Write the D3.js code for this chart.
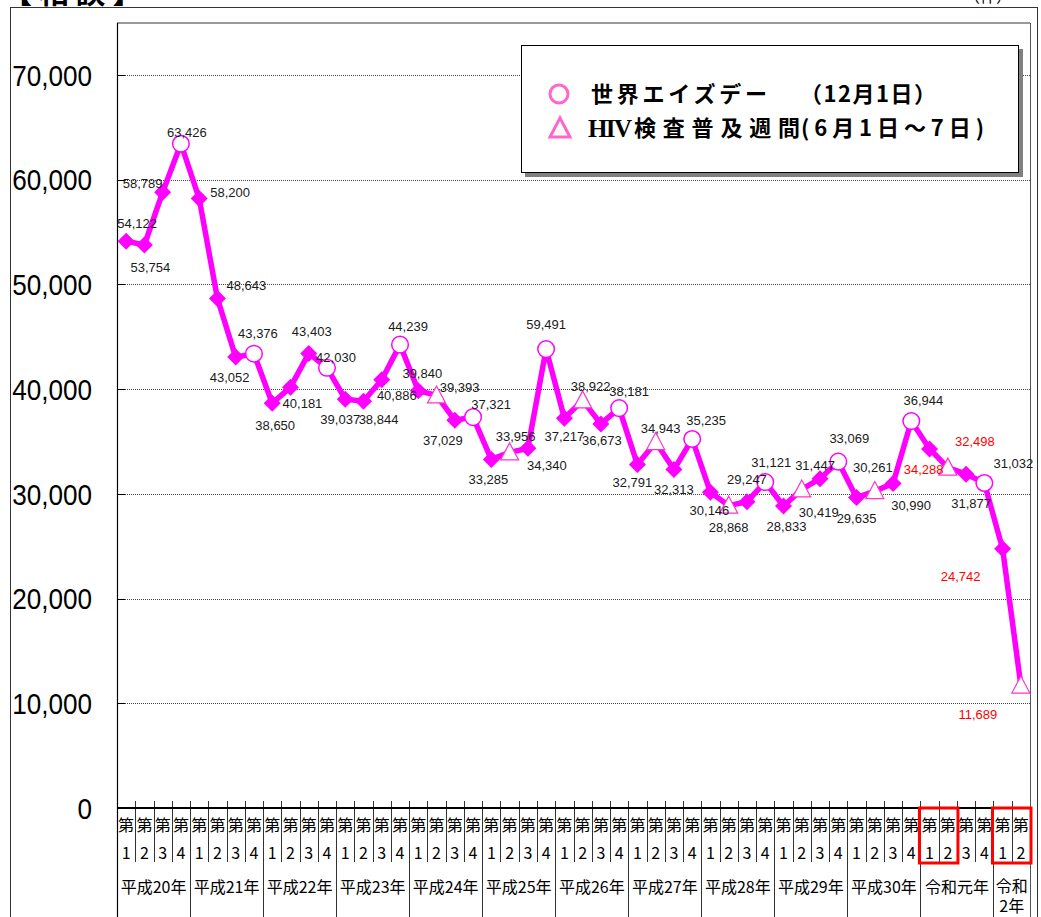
<!DOCTYPE html>
<html><head><meta charset="utf-8">
<script src="https://cdn.jsdelivr.net/npm/d3@7"></script>
<style>body{margin:0;background:#fff;} svg{display:block;}</style>
</head><body><svg id="c" width="1041" height="917"></svg>
<script>
// ---- data ----
const years = ["平成20年","平成21年","平成22年","平成23年","平成24年","平成25年","平成26年","平成27年","平成28年","平成29年","平成30年","令和元年","令和2年"];
const quartersPerYear = [4,4,4,4,4,4,4,4,4,4,4,4,2];
const values = [54122,53754,58789,63426, 58200,48643,43052,43376, 38650,40181,43403,42030,
  39037,38844,40886,44239, 39840,39393,37029,37321, 33285,33956,34340,43814,
  37217,38922,36673,38181, 32791,34943,32313,35235, 30146,28868,29247,31121,
  28833,30419,31447,33069, 29635,30261,30990,36944, 34288,32498,31877,31032, 24742,11689];
const valueLabels = ["54,122","53,754","58,789","63,426","58,200","48,643","43,052","43,376","38,650","40,181","43,403","42,030",
  "39,037","38,844","40,886","44,239","39,840","39,393","37,029","37,321","33,285","33,956","34,340","59,491",
  "37,217","38,922","36,673","38,181","32,791","34,943","32,313","35,235","30,146","28,868","29,247","31,121",
  "28,833","30,419","31,447","33,069","29,635","30,261","30,990","36,944","34,288","32,498","31,877","31,032","24,742","11,689"];
// D = diamond, C = circle (世界エイズデー), T = triangle (HIV検査普及週間)
const markerTypes = ["D","D","D","C","D","D","D","C","D","D","D","C","D","D","D","C",
  "D","T","D","C","D","T","D","C","D","T","D","C","D","T","D","C","D","T","D","C",
  "D","T","D","C","D","T","D","C","D","T","D","C","D","T"];
const highlighted = [44,45,48,49];
const yTicks = [0,10000,20000,30000,40000,50000,60000,70000];
const boxedGroups = [[44,45],[48,49]];
// label placement (layout only)
const labelOffsets = [[11,-18],[6,22],[-20,-9],[6,-11],[31,-6],[29,-13],[-6,20],[4,-20],[3,22],[12,16],[3,-22],[9,-10],
  [-5,20],[15,18],[15,16],[8,-18],[4,-17],[23,-8],[-12,20],[18,-13],[-3,20],[6,-16],[19,17],[0,-25],
  [0,18],[8,-14],[1,16],[10,-17],[-5,18],[5,-14],[0,20],[14,-19],[-1,18],[0,22],[0,-22],[6,-20],
  [3,20],[17,23],[-5,-13],[11,-23],[0,21],[-2,-24],[18,22],[12,-21],[-6,20],[27,-26],[5,29],[29,-20],[-42,27],[-43,29]];

// ---- build categories ----
const quarterLabels = [];
const yearStart = [];
quartersPerYear.forEach((n, yi) => { yearStart.push(quarterLabels.length); for (let q=1;q<=n;q++) quarterLabels.push(String(q)); });
const idx = d3.range(values.length);

const svg = d3.select("#c");
const L = 117, R = 1030, T = 23, B = 808;
const x = d3.scaleBand().domain(idx).range([L, R]).paddingInner(0).paddingOuter(0);
const y = d3.scaleLinear().domain([0, 75000]).range([B, T - 0.5]);
const cx = i => x(i) + x.bandwidth()/2;
const jp = "'Noto Sans CJK JP','Noto Sans',sans-serif";
const num = "'Liberation Sans',Arial,sans-serif";
const MAG = "#ff00ff";

// title fragments (cut off at top)
svg.append("text").attr("x", 2).attr("y", 3).attr("font-family", jp).attr("font-weight", 700)
  .attr("font-size", 30).attr("fill", "#000").text("【 相 談 】");
svg.append("text").attr("x", 988).attr("y", 2).attr("text-anchor", "middle").attr("font-family", jp)
  .attr("font-size", 16).attr("fill", "#000").text("（件）");

// outer frame
svg.append("rect").attr("x", 10.5).attr("y", 7.5).attr("width", 1027).attr("height", 950)
  .attr("fill", "none").attr("stroke", "#333").attr("stroke-width", 1);

// plot frame top & right
svg.append("line").attr("x1", L).attr("x2", R).attr("y1", T).attr("y2", T).attr("stroke", "#777").attr("stroke-width", 1.5);
svg.append("line").attr("x1", R + 0.5).attr("x2", R + 0.5).attr("y1", T).attr("y2", 917).attr("stroke", "#555").attr("stroke-width", 1);

// gridlines
svg.append("g").selectAll("line").data(yTicks.filter(d => d > 0)).join("line")
  .attr("x1", L).attr("x2", R).attr("y1", d => Math.round(y(d)) + 0.5).attr("y2", d => Math.round(y(d)) + 0.5)
  .attr("stroke", "#444").attr("stroke-width", 1).attr("stroke-dasharray", "1,1");
// y ticks (inside)
svg.append("g").selectAll("line").data(yTicks).join("line")
  .attr("x1", L).attr("x2", L + 8).attr("y1", d => Math.round(y(d)) + 0.5).attr("y2", d => Math.round(y(d)) + 0.5)
  .attr("stroke", "#000").attr("stroke-width", 1);
// y labels
svg.append("g").selectAll("text").data(yTicks).join("text")
  .attr("transform", d => `translate(92,${y(d)}) scale(0.87,1)`)
  .attr("text-anchor", "end").attr("dy", "0.36em")
  .attr("font-family", num).attr("font-size", 30).attr("fill", "#000")
  .text(d => d3.format(",")(d));

// left axis line
svg.append("line").attr("x1", L + 0.5).attr("x2", L + 0.5).attr("y1", T).attr("y2", 917).attr("stroke", "#000").attr("stroke-width", 1.2);

// category table
const bounds = d3.range(values.length + 1).map(i => i < values.length ? x(i) : R);
const ticks = svg.append("g");
bounds.forEach((bx, i) => {
  if (i === 0 || i === values.length) return;
  const isYear = yearStart.includes(i);
  ticks.append("line").attr("x1", Math.round(bx) + 0.5).attr("x2", Math.round(bx) + 0.5)
    .attr("y1", 801).attr("y2", isYear ? 917 : 862).attr("stroke", "#333").attr("stroke-width", 1);
});
// x axis line
svg.append("line").attr("x1", L).attr("x2", R).attr("y1", B).attr("y2", B).attr("stroke", "#000").attr("stroke-width", 2);

const cat = svg.append("g").attr("font-family", jp).attr("font-size", 16).attr("fill", "#000").attr("text-anchor", "middle");
idx.forEach(i => {
  cat.append("text").attr("x", cx(i)).attr("y", 825).attr("dy", "0.36em").text("第");
  cat.append("text").attr("x", cx(i)).attr("y", 853).attr("dy", "0.36em").text(quarterLabels[i]);
});
years.forEach((yn, yi) => {
  const s = yearStart[yi], n = quartersPerYear[yi];
  const mid = (x(s) + (s + n < values.length ? x(s + n) : R)) / 2;
  if (n >= 4) {
    cat.append("text").attr("x", mid).attr("y", 887).attr("dy", "0.36em").text(yn);
  } else {
    cat.append("text").attr("x", mid).attr("y", 886).attr("dy", "0.36em").text(yn.slice(0, 2));
    cat.append("text").attr("x", mid).attr("y", 906).attr("dy", "0.36em").text(yn.slice(2));
  }
});
// red boxes
boxedGroups.forEach(g => {
  const x0 = x(g[0]), x1 = x(g[g.length - 1]) + x.bandwidth();
  svg.append("rect").attr("x", x0 - 1).attr("y", 808).attr("width", x1 - x0 + 2).attr("height", 55)
    .attr("fill", "none").attr("stroke", "#ff0000").attr("stroke-width", 3);
});

// line
svg.append("path").datum(idx)
  .attr("d", d3.line().x(i => cx(i)).y(i => y(values[i])))
  .attr("fill", "none").attr("stroke", MAG).attr("stroke-width", 5.5).attr("stroke-linejoin", "miter");

// markers
const mk = svg.append("g");
idx.forEach(i => {
  const px = cx(i), py = y(values[i]);
  const t = markerTypes[i];
  if (t === "D") {
    mk.append("path").attr("d", `M${px},${py-8.5}L${px+8.5},${py}L${px},${py+8.5}L${px-8.5},${py}Z`).attr("fill", MAG);
  } else if (t === "C") {
    mk.append("circle").attr("cx", px).attr("cy", py).attr("r", 8.3).attr("fill", "#fff").attr("stroke", MAG).attr("stroke-width", 1.5);
  } else {
    mk.append("path").attr("d", `M${px},${py-9.5}L${px+9},${py+7.5}L${px-9},${py+7.5}Z`)
      .attr("fill", "#fff").attr("stroke", "#ff33cc").attr("stroke-width", 1.2);
  }
});

// value labels
svg.append("g").selectAll("text").data(idx).join("text")
  .attr("x", i => cx(i) + labelOffsets[i][0]).attr("y", i => y(values[i]) + labelOffsets[i][1])
  .attr("dy", "0.36em").attr("text-anchor", "middle")
  .attr("font-family", num).attr("font-size", 13)
  .attr("fill", i => highlighted.includes(i) ? "#ff0000" : "#1a1a1a")
  .text(i => valueLabels[i]);

// legend
const lg = svg.append("g");
lg.append("rect").attr("x", 525).attr("y", 49).attr("width", 498).attr("height", 128).attr("fill", "#808080");
lg.append("rect").attr("x", 521.5).attr("y", 45.5).attr("width", 497).attr("height", 127).attr("fill", "#fff").attr("stroke", "#000").attr("stroke-width", 1);
lg.append("circle").attr("cx", 559).attr("cy", 94).attr("r", 9).attr("fill", "#fff").attr("stroke", "#ff66cc").attr("stroke-width", 3);
lg.append("path").attr("d", "M560,118L570,137L550,137Z").attr("fill", "#fff").attr("stroke", "#ff66cc").attr("stroke-width", 3).attr("stroke-linejoin", "miter");
const legendPieces = [
  {t: "世界エイズデー", x: 591, y: 94, w: 176},
  {t: "（12月1日）", x: 800, y: 94, w: 136},
  {t: "HIV", x: 588, y: 128, w: 44, serif: true},
  {t: "検査普及週間", x: 634, y: 128, w: 166},
  {t: "(6月1日～7日)", x: 801, y: 128, w: 183}
];
legendPieces.forEach(p => {
  lg.append("text").attr("x", p.x).attr("y", p.y).attr("dy", "0.36em")
    .attr("font-family", p.serif ? "'Liberation Serif','DejaVu Serif',serif" : jp)
    .attr("font-weight", 700).attr("font-size", p.serif ? 25 : 22).attr("fill", "#000")
    .attr("textLength", p.w).attr("lengthAdjust", "spacing").text(p.t);
});
</script></body></html>
